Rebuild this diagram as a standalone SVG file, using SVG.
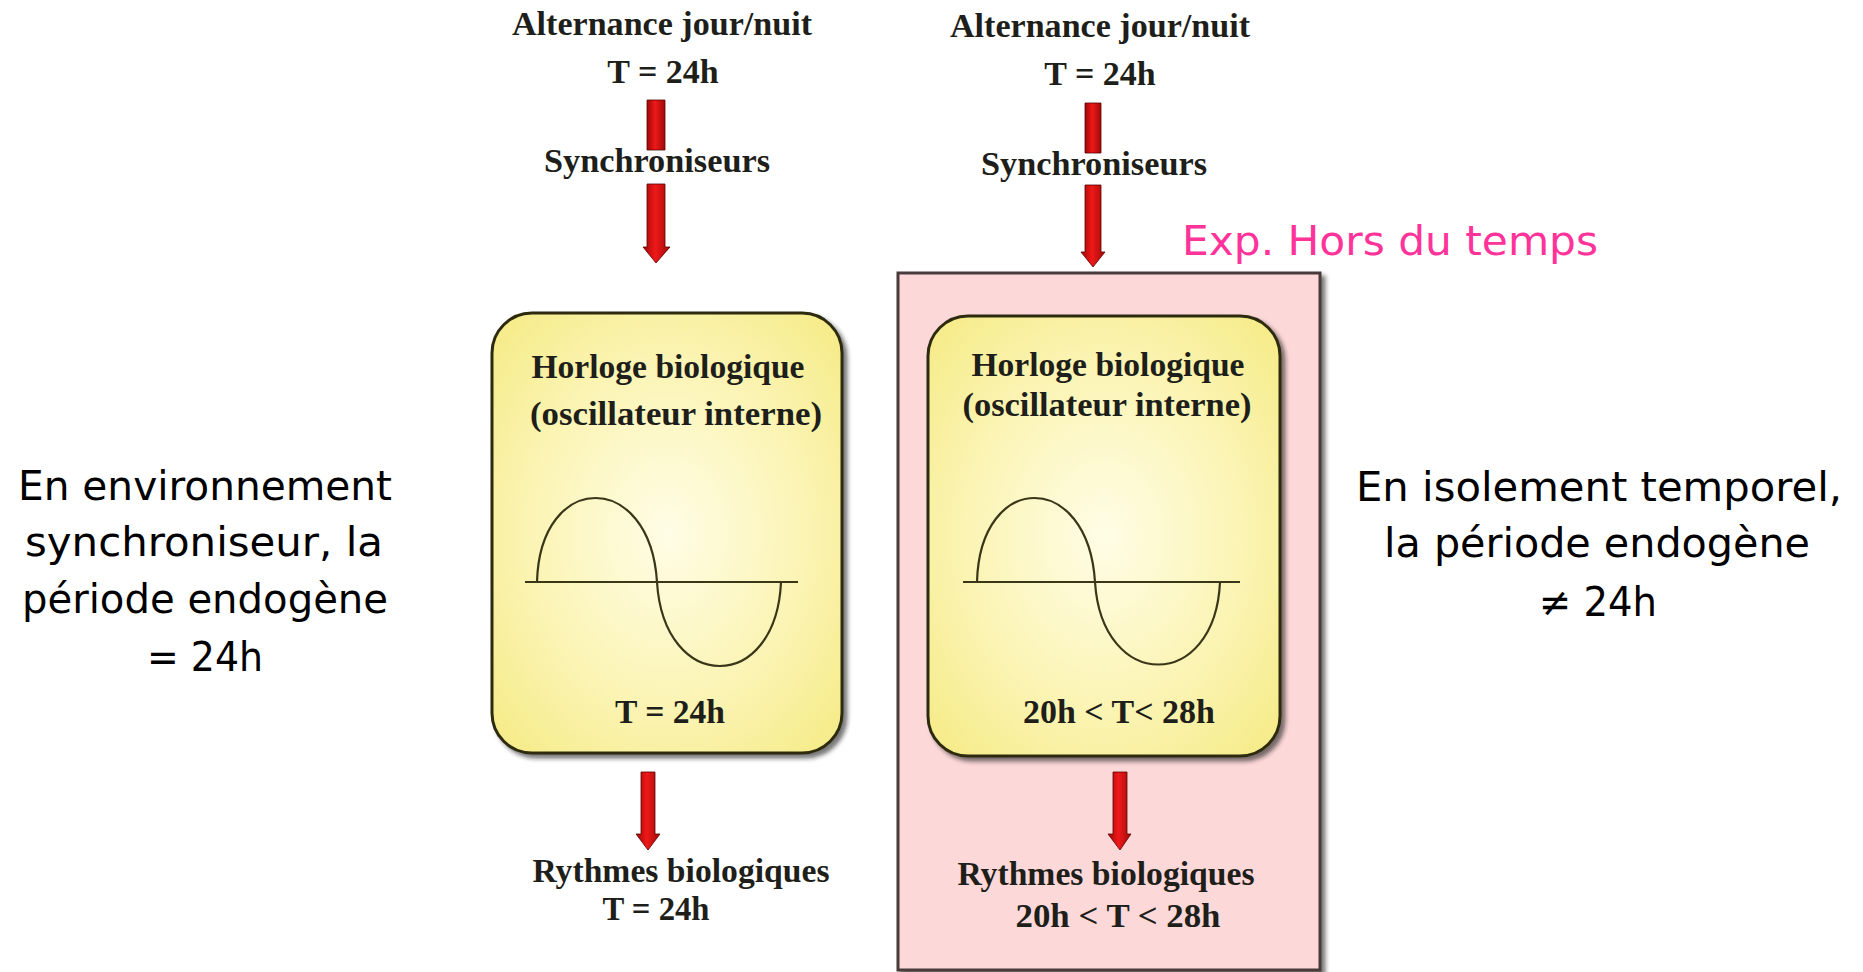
<svg xmlns="http://www.w3.org/2000/svg" width="1863" height="972" viewBox="0 0 1863 972">
<style>
.ser{font-family:"Liberation Serif","Times New Roman",serif;font-weight:bold;font-size:34px;fill:#1e1e1a;text-anchor:middle}
.hand{font-family:"DejaVu Sans","Noto Sans",sans-serif;font-size:40px;fill:#000;text-anchor:middle}
.pink{font-family:"DejaVu Sans","Noto Sans",sans-serif;font-size:41px;fill:#ff3399}
.box{fill:url(#yel);stroke:#2e2c10;stroke-width:3;filter:url(#sh)}
.wave{fill:none;stroke:#3a3618;stroke-width:2.2}
.arr{fill:url(#red);stroke:#5a0000;stroke-width:0.8;stroke-linejoin:round}
</style>
<defs>
<radialGradient id="yel" cx="0.5" cy="0.5" r="0.65">
<stop offset="0" stop-color="#fffde6"/>
<stop offset="0.6" stop-color="#fbf4b4"/>
<stop offset="1" stop-color="#f6ec8c"/>
</radialGradient>
<linearGradient id="red" x1="0" y1="0" x2="1" y2="0">
<stop offset="0" stop-color="#9a0808"/>
<stop offset="0.45" stop-color="#f01818"/>
<stop offset="1" stop-color="#a00a0a"/>
</linearGradient>
<filter id="sh" x="-10%" y="-10%" width="125%" height="125%">
<feDropShadow dx="4" dy="4" stdDeviation="2" flood-color="#222" flood-opacity="0.6"/>
</filter>
</defs>
<rect width="1863" height="972" fill="#fff"/>

<g id="exp-frame">
<rect x="898" y="273" width="422" height="697" fill="#fdd8d8" stroke="#4a3a3a" stroke-width="3" filter="url(#sh)"/>
</g>

<g id="connectors">
<rect class="arr" x="647" y="100" width="18" height="50"/>
<path class="arr" d="M647,184 H665 V247 H670 L656,263 L643,247 H647 Z"/>
<path class="arr" d="M641,772 H655 V834 H660 L648,850 L636,834 H641 Z"/>
<rect class="arr" x="1085" y="103" width="16" height="50"/>
<path class="arr" d="M1085,185 H1101 V252 H1105 L1093,267 L1081,252 H1085 Z"/>
<path class="arr" d="M1113,772 H1127 V834 H1131 L1120,850 L1108,834 H1113 Z"/>
</g>

<g id="left-source">
<text class="ser" x="662" y="35" textLength="300" lengthAdjust="spacingAndGlyphs">Alternance jour/nuit</text>
<text class="ser" x="663" y="83">T = 24h</text>
</g>
<g id="left-sync">
<text class="ser" x="657" y="172" textLength="226" lengthAdjust="spacingAndGlyphs">Synchroniseurs</text>
</g>
<g id="left-clock">
<rect class="box" x="492" y="313" width="350" height="440" rx="40"/>
<text class="ser" x="668" y="378" textLength="273" lengthAdjust="spacingAndGlyphs">Horloge biologique</text>
<text class="ser" x="676" y="425" textLength="292" lengthAdjust="spacingAndGlyphs">(oscillateur interne)</text>
<line class="wave" x1="525" y1="582" x2="798" y2="582"/>
<path class="wave" d="M537,582 C540,470 650,470 657,582 C664,694 776,694 781,582"/>
<text class="ser" x="670" y="723" textLength="110" lengthAdjust="spacingAndGlyphs">T = 24h</text>
</g>
<g id="left-rhythms">
<text class="ser" x="681" y="882" textLength="297" lengthAdjust="spacingAndGlyphs">Rythmes biologiques</text>
<text class="ser" x="656" y="920" textLength="107" lengthAdjust="spacingAndGlyphs">T = 24h</text>
</g>

<g id="right-source">
<text class="ser" x="1100" y="37" textLength="300" lengthAdjust="spacingAndGlyphs">Alternance jour/nuit</text>
<text class="ser" x="1100" y="85">T = 24h</text>
</g>
<g id="right-sync">
<text class="ser" x="1094" y="175" textLength="226" lengthAdjust="spacingAndGlyphs">Synchroniseurs</text>
</g>
<g id="right-clock">
<rect class="box" x="928" y="316" width="352" height="440" rx="40"/>
<text class="ser" x="1108" y="376" textLength="273" lengthAdjust="spacingAndGlyphs">Horloge biologique</text>
<text class="ser" x="1107" y="416" textLength="289" lengthAdjust="spacingAndGlyphs">(oscillateur interne)</text>
<line class="wave" x1="963" y1="582" x2="1240" y2="582"/>
<path class="wave" d="M977,582 C980,470 1088,470 1095,582 C1102,692 1215,692 1220,582"/>
<text class="ser" x="1119" y="723" textLength="192" lengthAdjust="spacingAndGlyphs">20h &lt; T&lt; 28h</text>
</g>
<g id="right-rhythms">
<text class="ser" x="1106" y="885" textLength="297" lengthAdjust="spacingAndGlyphs">Rythmes biologiques</text>
<text class="ser" x="1118" y="927" textLength="205" lengthAdjust="spacingAndGlyphs">20h &lt; T &lt; 28h</text>
</g>

<g id="exp-label">
<text class="pink" x="1182" y="255" textLength="416" lengthAdjust="spacingAndGlyphs">Exp. Hors du temps</text>
</g>

<g id="left-note">
<text class="hand" x="205" y="500" textLength="374" lengthAdjust="spacingAndGlyphs">En environnement</text>
<text class="hand" x="204" y="556" textLength="358" lengthAdjust="spacingAndGlyphs">synchroniseur, la</text>
<text class="hand" x="205" y="613" textLength="366" lengthAdjust="spacingAndGlyphs">période endogène</text>
<text class="hand" x="205" y="671" textLength="116" lengthAdjust="spacingAndGlyphs">= 24h</text>
</g>
<g id="right-note">
<text class="hand" x="1599" y="501" textLength="486" lengthAdjust="spacingAndGlyphs">En isolement temporel,</text>
<text class="hand" x="1597" y="557" textLength="426" lengthAdjust="spacingAndGlyphs">la période endogène</text>
<text class="hand" x="1598" y="616" textLength="118" lengthAdjust="spacingAndGlyphs">≠ 24h</text>
</g>
</svg>
